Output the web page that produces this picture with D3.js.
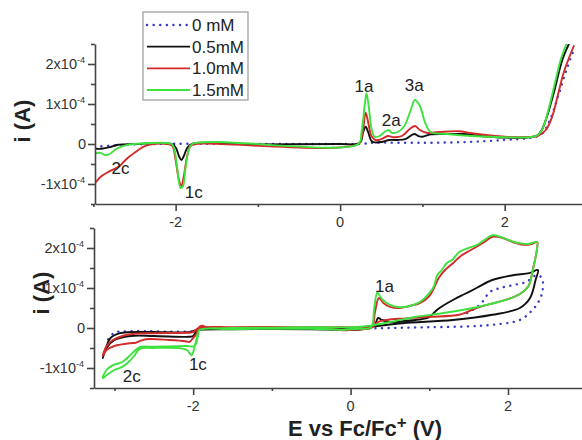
<!DOCTYPE html>
<html>
<head>
<meta charset="utf-8">
<script src="https://cdn.jsdelivr.net/npm/d3@7"></script>
<style>
  body { margin: 0; background: #fff; }
  svg { display: block; font-family: Arial, "Liberation Sans", sans-serif; }
</style>
</head>
<body>
<svg id="chart"></svg>
<script>
// concentrations (legend order)
const seriesNames = ['0 mM', '0.5mM', '1.0mM', '1.5mM'];
const seriesColors = ['#3a3ac8', '#111111', '#d32a2a', '#3ee23e'];

// current in units of 1e-4 A, potential in V vs Fc/Fc+
// top panel: linear sweeps
const top0mM = [[-2.98,-0.07],[-2.7,-0.03],[-2.3,0],[-1.0,0],[0,0],[0.25,0],[0.4,0.03],[1.0,0.03],[1.55,0.05],[2.0,0.1],[2.3,0.15],[2.45,0.25],[2.55,0.6],[2.65,1.2],[2.75,1.85],[2.84,2.35]];
const top05mM = [[-2.98,-0.12],[-2.9,-0.12],[-2.8,-0.08],[-2.7,-0.02],[-2.5,0],[-2.05,0],[-2.0,-0.08],[-1.96,-0.3],[-1.93,-0.4],[-1.9,-0.3],[-1.86,-0.1],[-1.8,0],[-1,-0.01],[0,0],[0.2,0],[0.25,0.05],[0.28,0.3],[0.31,0.43],[0.34,0.3],[0.38,0.08],[0.42,0.04],[0.5,0.05],[0.6,0.1],[0.7,0.1],[0.8,0.13],[0.9,0.25],[0.95,0.2],[1.0,0.18],[1.1,0.24],[1.3,0.25],[1.5,0.25],[1.7,0.2],[2.0,0.16],[2.3,0.17],[2.4,0.22],[2.45,0.35],[2.5,0.6],[2.6,1.3],[2.7,2.1],[2.78,2.5]];
const top10mM = [[-2.98,-0.98],[-2.9,-0.8],[-2.8,-0.68],[-2.68,-0.55],[-2.6,-0.38],[-2.5,-0.22],[-2.4,-0.08],[-2.3,-0.01],[-2.1,0],[-2.04,-0.05],[-2.0,-0.4],[-1.96,-0.9],[-1.93,-1.05],[-1.9,-0.8],[-1.86,-0.3],[-1.82,-0.05],[-1.75,0],[0.22,0],[0.27,0.25],[0.31,0.78],[0.34,0.55],[0.38,0.2],[0.43,0.1],[0.5,0.12],[0.58,0.2],[0.65,0.17],[0.75,0.2],[0.85,0.38],[0.91,0.45],[0.97,0.35],[1.05,0.28],[1.2,0.3],[1.44,0.32],[1.6,0.27],[1.8,0.22],[2.0,0.18],[2.25,0.17],[2.4,0.2],[2.5,0.35],[2.58,0.7],[2.65,1.25],[2.72,1.8],[2.84,2.45]];
const top15mM = [[-2.98,-0.23],[-2.92,-0.22],[-2.85,-0.28],[-2.8,-0.25],[-2.72,-0.12],[-2.6,-0.03],[-2.5,0],[-2.05,0],[-2.02,-0.1],[-1.98,-0.6],[-1.94,-1.1],[-1.91,-1.05],[-1.88,-0.6],[-1.84,-0.15],[-1.8,0],[0.22,0],[0.26,0.3],[0.3,1.0],[0.32,1.27],[0.35,0.9],[0.38,0.4],[0.42,0.18],[0.48,0.2],[0.54,0.3],[0.59,0.35],[0.63,0.28],[0.7,0.3],[0.78,0.45],[0.85,0.8],[0.91,1.1],[0.97,0.95],[1.03,0.55],[1.1,0.3],[1.3,0.25],[1.6,0.2],[2.0,0.17],[2.3,0.17],[2.4,0.22],[2.47,0.43],[2.55,1.0],[2.62,1.6],[2.68,2.1],[2.75,2.5]];

// bottom panel: cyclic sweeps
const bot0mM = [[-3.08,-0.28],[-3.0,-0.12],[-2.8,-0.08],[-2.0,-0.08],[-1.9,-0.02],[-1.0,-0.01],[0,-0.01],[0.5,0],[1.0,0.02],[1.5,0.04],[1.8,0.08],[2.15,0.2],[2.31,0.45],[2.4,0.7],[2.44,0.95],[2.43,1.25],[2.36,1.32],[2.23,1.15],[2.06,1.07],[1.9,1.0],[1.77,0.9],[1.66,0.62],[1.55,0.45],[1.45,0.35]];
const bot05mM = [[-0.11,-0.05],[0.2,-0.02],[0.3,0.05],[0.35,0.25],[0.4,0.2],[0.5,0.15],[0.7,0.18],[0.9,0.22],[1.0,0.27],[1.07,0.4],[1.13,0.5],[1.3,0.7],[1.45,0.85],[1.6,1.0],[1.8,1.2],[2.06,1.32],[2.27,1.37],[2.38,1.45],[2.35,1.2],[2.28,0.75],[2.15,0.5],[1.8,0.33],[1.3,0.2],[0.66,0.12],[0.24,0.03],[0,0],[-1.0,-0.02],[-1.9,-0.03],[-1.95,-0.05],[-2.0,-0.2],[-2.05,-0.22],[-2.5,-0.2],[-2.8,-0.2],[-3.0,-0.3],[-3.1,-0.5],[-3.15,-0.75],[-3.1,-0.45],[-3.05,-0.25],[-2.93,-0.13],[-2.55,-0.1],[-2.04,-0.1],[-1.96,-0.05],[-1.5,-0.03],[-0.5,-0.03],[-0.11,-0.05]];
const bot10mM = [[-0.11,-0.06],[0.1,-0.03],[0.27,0.02],[0.31,0.4],[0.36,0.75],[0.42,0.62],[0.5,0.53],[0.62,0.5],[0.75,0.55],[0.88,0.62],[1.0,0.8],[1.06,1.0],[1.12,1.25],[1.2,1.45],[1.3,1.62],[1.4,1.8],[1.5,1.92],[1.6,2.03],[1.7,2.15],[1.8,2.28],[1.9,2.27],[2.0,2.2],[2.1,2.12],[2.2,2.08],[2.3,2.1],[2.37,2.15],[2.37,2.0],[2.32,1.5],[2.26,1.05],[2.15,0.85],[2.0,0.72],[1.6,0.5],[1.38,0.33],[1.0,0.28],[0.7,0.24],[0.45,0.2],[0.35,0.15],[0.28,0.03],[0,0.02],[-1.0,0.02],[-1.85,0.03],[-1.88,0.06],[-1.92,0.03],[-1.96,-0.15],[-2.0,-0.25],[-2.05,-0.35],[-2.1,-0.33],[-2.3,-0.3],[-2.6,-0.28],[-2.68,-0.33],[-2.73,-0.37],[-2.8,-0.38],[-3.0,-0.45],[-3.1,-0.55],[-3.15,-0.7],[-3.1,-0.45],[-3.02,-0.3],[-2.9,-0.2],[-2.77,-0.15],[-2.5,-0.13],[-2.1,-0.12],[-2.0,-0.1],[-1.93,0],[-1.5,0.02],[-0.5,0.01],[-0.11,-0.06]];
const bot15mM = [[-0.11,-0.05],[0.1,-0.02],[0.26,0.02],[0.3,0.5],[0.34,0.88],[0.4,0.72],[0.5,0.58],[0.62,0.52],[0.75,0.55],[0.88,0.65],[1.0,0.87],[1.06,1.05],[1.1,1.32],[1.16,1.45],[1.22,1.62],[1.3,1.72],[1.38,1.9],[1.5,2.0],[1.6,2.07],[1.7,2.2],[1.8,2.32],[1.9,2.28],[1.98,2.22],[2.08,2.15],[2.15,2.12],[2.25,2.1],[2.37,2.15],[2.37,2.0],[2.32,1.5],[2.26,1.05],[2.15,0.85],[2.0,0.72],[1.6,0.52],[1.2,0.38],[0.8,0.27],[0.5,0.15],[0.25,0.06],[0,0.02],[-0.5,0.02],[-1.0,0.01],[-1.5,0],[-1.85,-0.02],[-1.92,-0.05],[-1.96,-0.3],[-2.0,-0.6],[-2.02,-0.68],[-2.08,-0.55],[-2.2,-0.5],[-2.5,-0.5],[-2.68,-0.52],[-2.75,-0.7],[-2.82,-0.85],[-2.9,-0.97],[-3.0,-1.05],[-3.08,-1.15],[-3.15,-1.25],[-3.1,-1.05],[-3.02,-0.93],[-2.9,-0.85],[-2.8,-0.68],[-2.68,-0.48],[-2.5,-0.47],[-2.08,-0.45],[-1.98,-0.45],[-1.94,-0.2],[-1.92,-0.05],[-1.5,-0.03],[-1.0,-0.02],[-0.5,-0.02],[-0.11,-0.05]];

// tick values
const yMajorTicks = [-1, 0, 1, 2];
const yMinorTicks = [-1.5, -0.5, 0.5, 1.5, 2.5];
const xMajorTicks = [-2, 0, 2];
const xMinorTicks = [-3, -1, 1];

// peak labels [text, E, i]
const topPeakLabels = [['1a', 0.29, 1.4], ['2a', 0.62, 0.55], ['3a', 0.9, 1.43], ['2c', -2.67, -0.65], ['1c', -1.78, -1.23]];
const botPeakLabels = [['1a', 0.43, 1.0], ['2c', -2.78, -1.25], ['1c', -1.94, -0.93]];

class CVPanel {

  constructor(_config, _series, _labels) {
    this.config = _config;
    this.series = _series;
    this.labels = _labels;
    this.initVis();
  }

  initVis() {
    let vis = this;
    const c = vis.config;

    vis.x = d3.scaleLinear().domain(c.xDomain).range([c.left, c.right]);
    vis.y = d3.scaleLinear().domain([-1.5, 2.5]).range([c.bottom, c.top]);

    vis.g = c.svg.append('g');

    vis.g.append('clipPath').attr('id', c.id + '-clip')
      .append('rect')
      .attr('x', c.left).attr('y', c.top)
      .attr('width', c.right - c.left).attr('height', c.bottom - c.top);

    vis.renderVis();
  }

  renderVis() {
    let vis = this;
    const c = vis.config;

    const line = d3.line()
      .x(d => vis.x(d[0]))
      .y(d => vis.y(d[1]))
      .curve(d3.curveCatmullRom.alpha(0.5));

    vis.g.append('g')
      .attr('clip-path', `url(#${c.id}-clip)`)
      .selectAll('path')
      .data(vis.series)
      .join('path')
      .attr('d', d => line(d))
      .attr('fill', 'none')
      .attr('stroke', (d, i) => seriesColors[i])
      .attr('stroke-width', (d, i) => i === 0 ? 2.4 : 1.9)
      .attr('stroke-linecap', 'round')
      .attr('stroke-linejoin', 'round')
      .attr('stroke-dasharray', (d, i) => i === 0 ? '0.1,6.5' : null);

    // y axis, major + minor
    vis.g.append('g')
      .attr('transform', `translate(${c.left},0)`)
      .call(d3.axisLeft(vis.y).tickValues(yMajorTicks).tickSize(7).tickSizeOuter(0).tickFormat(''));
    vis.g.append('g')
      .attr('transform', `translate(${c.left},0)`)
      .call(d3.axisLeft(vis.y).tickValues(yMinorTicks).tickSize(4).tickFormat(''))
      .select('.domain').remove();

    // x axis
    vis.g.append('g')
      .attr('transform', `translate(0,${c.bottom})`)
      .call(d3.axisBottom(vis.x).tickValues(xMajorTicks).tickSize(7).tickSizeOuter(0).tickFormat(''));
    vis.g.append('g')
      .attr('transform', `translate(0,${c.bottom})`)
      .call(d3.axisBottom(vis.x).tickValues(xMinorTicks).tickSize(3).tickFormat(''))
      .select('.domain').remove();

    vis.g.selectAll('.domain, .tick line')
      .attr('stroke', '#444')
      .attr('stroke-width', 1.6);

    // y tick labels as a x 10^-4
    const yLabels = vis.g.selectAll('.ylab')
      .data(yMajorTicks)
      .join('text')
      .attr('class', 'ylab')
      .attr('x', c.left - 10)
      .attr('y', d => vis.y(d) + 5)
      .attr('text-anchor', 'end')
      .attr('font-size', 14.5)
      .attr('fill', '#333');
    yLabels.each(function(d) {
      const t = d3.select(this);
      if (d === 0) { t.attr('x', c.left - 9).text('0'); return; }
      t.append('tspan').text(d + 'x10');
      t.append('tspan').attr('dy', -6).attr('font-size', 9).text('-4');
    });

    vis.g.selectAll('.xlab')
      .data(xMajorTicks)
      .join('text')
      .attr('class', 'xlab')
      .attr('x', d => vis.x(d))
      .attr('y', c.bottom + 23)
      .attr('text-anchor', 'middle')
      .attr('font-size', 14.5)
      .attr('fill', '#333')
      .text(d => d);

    vis.g.append('text')
      .attr('transform', `translate(${c.ylabelX},${c.ylabelY}) rotate(-90)`)
      .attr('text-anchor', 'middle')
      .attr('font-size', 22)
      .attr('font-weight', 'bold')
      .attr('fill', '#222')
      .text('i (A)');

    vis.g.selectAll('.peak')
      .data(vis.labels)
      .join('text')
      .attr('class', 'peak')
      .attr('x', d => vis.x(d[1]))
      .attr('y', d => vis.y(d[2]))
      .attr('text-anchor', 'middle')
      .attr('dominant-baseline', 'middle')
      .attr('font-size', 17)
      .attr('fill', '#222')
      .text(d => d[0]);
  }
}

const svg = d3.select('#chart').attr('width', 582).attr('height', 440);

new CVPanel({ svg: svg, id: 'top', xDomain: [-2.98, 2.94], left: 95, right: 582, top: 44, bottom: 204, ylabelX: 30, ylabelY: 121 },
  [top0mM, top05mM, top10mM, top15mM], topPeakLabels);
new CVPanel({ svg: svg, id: 'bot', xDomain: [-3.26, 2.94], left: 94, right: 582, top: 228, bottom: 388, ylabelX: 49, ylabelY: 293 },
  [bot0mM, bot05mM, bot10mM, bot15mM], botPeakLabels);

// x axis title
const xTitle = svg.append('text')
  .attr('x', 365)
  .attr('y', 436)
  .attr('text-anchor', 'middle')
  .attr('font-size', 22)
  .attr('font-weight', 'bold')
  .attr('fill', '#222');
xTitle.append('tspan').text('E vs Fc/Fc');
xTitle.append('tspan').attr('dy', -8).attr('font-size', 17).text('+');
xTitle.append('tspan').attr('dy', 8).text(' (V)');

// legend
const legend = svg.append('g');
legend.append('rect')
  .attr('x', 143).attr('y', 12).attr('width', 105).attr('height', 88)
  .attr('fill', '#fff').attr('stroke', '#999').attr('stroke-width', 1.2);
const legendY = d3.scalePoint().domain(seriesNames).range([25, 90]);
const item = legend.selectAll('.item')
  .data(seriesNames)
  .join('g')
  .attr('transform', d => `translate(0,${legendY(d)})`);
item.append('line')
  .attr('x1', 147).attr('x2', 190)
  .attr('stroke', (d, i) => seriesColors[i])
  .attr('stroke-width', (d, i) => i === 0 ? 2.4 : 1.9)
  .attr('stroke-linecap', (d, i) => i === 0 ? 'round' : 'butt')
  .attr('stroke-dasharray', (d, i) => i === 0 ? '0.1,6.5' : null);
item.append('text')
  .attr('x', 192).attr('y', 6)
  .attr('font-size', 17)
  .attr('fill', '#222')
  .text(d => d);
</script>
</body>
</html>
